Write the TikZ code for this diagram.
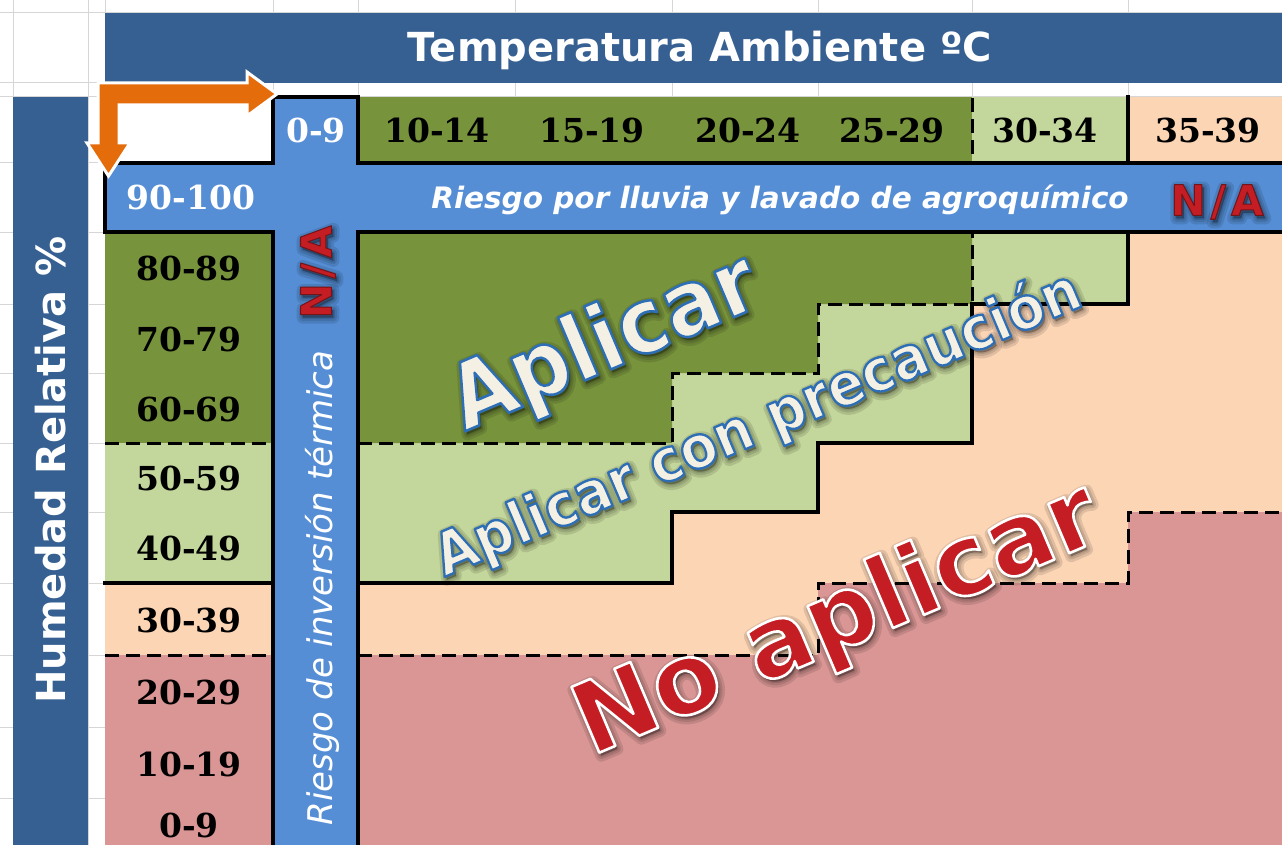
\documentclass[tikz,border=0pt]{standalone}
\usepackage{fontspec}
\setmainfont{DejaVu Serif}
\setsansfont{DejaVu Sans}
\usetikzlibrary{calc}
\definecolor{dkblue}{HTML}{366092}
\definecolor{bandblue}{HTML}{558ED5}
\definecolor{dkgreen}{HTML}{77933C}
\definecolor{ltgreen}{HTML}{C3D69B}
\definecolor{peach}{HTML}{FCD5B5}
\definecolor{rose}{HTML}{D99694}
\definecolor{arrorange}{HTML}{E46C0A}
\definecolor{nared}{HTML}{C41E24}
\definecolor{cream}{HTML}{F4F1E4}
\definecolor{gridgray}{HTML}{D6D6D6}
\tikzset{
  solidline/.style={line width=3.5pt, line cap=rect, line join=miter},
  dashline/.style={line width=3pt, dash pattern=on 14pt off 7pt},
  lab/.style={font=\fontsize{33}{36}\selectfont\bfseries, anchor=base, inner sep=0pt},
  gridl/.style={gridgray, line width=1pt},
  bigtxt/.style={rotate=23, inner sep=0pt},
  natxt/.style={inner sep=0pt, text=nared, font=\sffamily\bfseries\fontsize{42}{44}\selectfont}
}
% outlined text: fill colour from the node, stroke colour (r g b) and stroke width given here
\newcommand{\outl}[3]{\special{pdf:literal direct #1 RG 2 Tr #2 w 1 j}#3\special{pdf:literal direct 0 Tr}}
% #1 name, #2 position, #3 node options, #4 text, #5 outline rgb, #6 outline width
\newcommand{\glowtext}[6]{%
  \foreach \w in {12,7,3}{\node[#3, text=black] (#1g\w) at ($(#2)+(2,3)$) {\pgfsetfillopacity{0.11}\pgfsetstrokeopacity{0.11}\outl{0 0 0}{\w}{#4}};}
  \node[#3] (#1) at (#2) {\outl{#5}{#6}{#4}};}
\begin{document}
\begin{tikzpicture}[x=1pt,y=-1pt]
\useasboundingbox (0,0) rectangle (1282,845);
\clip (0,0) rectangle (1282,845);
\fill[white] (0,0) rectangle (1282,845);
% spreadsheet grid
\foreach \gx in {13,88,105,273,358,515,672,818,972,1128} \draw[gridl] (\gx,0) -- (\gx,845);
\foreach \gy in {13,83,97,163,232,304,373,443,512,583,655,727,798} \draw[gridl] (0,\gy) -- (1282,\gy);
% bars
\fill[dkblue] (105,13) rectangle (1282,83);
\fill[dkblue] (13,97) rectangle (88,845);
% header row
\fill[white] (105,97) rectangle (273,163);
\fill[dkgreen] (358,97) rectangle (972,163);
\fill[ltgreen] (972,97) rectangle (1128,163);
\fill[peach] (1128,97) rectangle (1282,163);
% left column
\fill[dkgreen] (105,232) rectangle (273,443);
\fill[ltgreen] (105,443) rectangle (273,583);
\fill[peach] (105,583) rectangle (273,655);
\fill[rose] (105,655) rectangle (273,845);
% main area
\fill[peach] (358,232) rectangle (1282,845);
\fill[ltgreen] (358,232) -- (1128,232) -- (1128,304) -- (972,304) -- (972,443) -- (818,443) -- (818,512) -- (672,512) -- (672,583) -- (358,583) -- cycle;
\fill[dkgreen] (358,232) -- (972,232) -- (972,304) -- (818,304) -- (818,373) -- (672,373) -- (672,443) -- (358,443) -- cycle;
\fill[rose] (358,655) -- (818,655) -- (818,583) -- (1128,583) -- (1128,512) -- (1282,512) -- (1282,845) -- (358,845) -- cycle;
% boundaries
\draw[dashline] (105,443) -- (273,443);
\draw[dashline] (358,443) -- (672,443) -- (672,373) -- (818,373) -- (818,304) -- (972,304) -- (972,97);
\draw[dashline] (105,655) -- (273,655);
\draw[dashline] (358,655) -- (818,655) -- (818,583) -- (1128,583) -- (1128,512) -- (1290,512);
\draw[solidline] (105,583) -- (273,583);
\draw[solidline] (358,583) -- (672,583) -- (672,512) -- (818,512) -- (818,443) -- (972,443) -- (972,304) -- (1128,304) -- (1128,97);
% blue cross
\draw[solidline, fill=bandblue] (105,163) -- (273,163) -- (273,97) -- (358,97) -- (358,163) -- (1295,163) -- (1295,232) -- (358,232) -- (358,860) -- (273,860) -- (273,232) -- (105,232) -- cycle;
% elbow arrow
\draw[fill=arrorange, draw=white, line width=3pt, line join=miter] (98,83) -- (247,83) -- (247,72) -- (277,94) -- (247,116) -- (247,105) -- (119,105) -- (119,143) -- (130,143) -- (108.5,176) -- (87,143) -- (98,143) -- cycle;
% titles
\node[font=\sffamily\bfseries\fontsize{40}{44}\selectfont, text=white, anchor=base, inner sep=0pt] (title) at (700,62) {Temperatura Ambiente ºC};
\node[font=\sffamily\bfseries\fontsize{40}{44}\selectfont, text=white, anchor=base, inner sep=0pt, rotate=90] (hum) at (65,470) {Humedad Relativa \%};
% header labels
\node[lab, text=white] (t0) at (316,143) {0-9};
\node[lab] (t10) at (437,143) {10-14};
\node[lab] (t15) at (592,143) {15-19};
\node[lab] (t20) at (748,143) {20-24};
\node[lab] (t25) at (892,143) {25-29};
\node[lab] (t30) at (1045,143) {30-34};
\node[lab] (t35) at (1208,143) {35-39};
% row labels
\node[lab, text=white] (h90) at (191,210) {90-100};
\node[lab] (h80) at (189,280) {80-89};
\node[lab] (h70) at (189,351) {70-79};
\node[lab] (h60) at (189,421) {60-69};
\node[lab] (h50) at (189,490) {50-59};
\node[lab] (h40) at (189,560) {40-49};
\node[lab] (h30) at (189,632) {30-39};
\node[lab] (h20) at (189,704) {20-29};
\node[lab] (h10) at (189,776) {10-19};
\node[lab] (h0) at (189,837) {0-9};
% band texts
\node[font=\sffamily\bfseries\itshape\fontsize{29.5}{32}\selectfont, text=white, anchor=base, inner sep=0pt] (lluvia) at (780,208) {Riesgo por lluvia y lavado de agroquímico};
\node[font=\sffamily\itshape\fontsize{34}{36}\selectfont, text=white, anchor=base, inner sep=0pt, rotate=90] (inv) at (332,588) {Riesgo de inversión térmica};
\glowtext{na1}{1217,202}{natxt}{N\kern5pt/\kern5pt A}{0.45 0.08 0.1}{1}
\glowtext{na2}{318,272}{natxt, rotate=90}{N\kern5pt/\kern5pt A}{0.45 0.08 0.1}{1}
% big labels
\glowtext{aplicar}{605,345}{bigtxt, text=cream, font=\sffamily\bfseries\fontsize{90}{96}\selectfont}{\scalebox{0.92}[1]{Aplicar}}{0.18 0.43 0.71}{2.6}
\glowtext{precau}{758,425}{bigtxt, text=cream, font=\sffamily\bfseries\fontsize{59}{64}\selectfont}{\scalebox{0.92}[1]{Aplicar con precaución}}{0.18 0.43 0.71}{2.4}
\glowtext{noapl}{838,622}{bigtxt, text=nared, font=\sffamily\bfseries\fontsize{98}{104}\selectfont}{No aplicar}{1 1 1}{2.6}
\end{tikzpicture}
\end{document}
